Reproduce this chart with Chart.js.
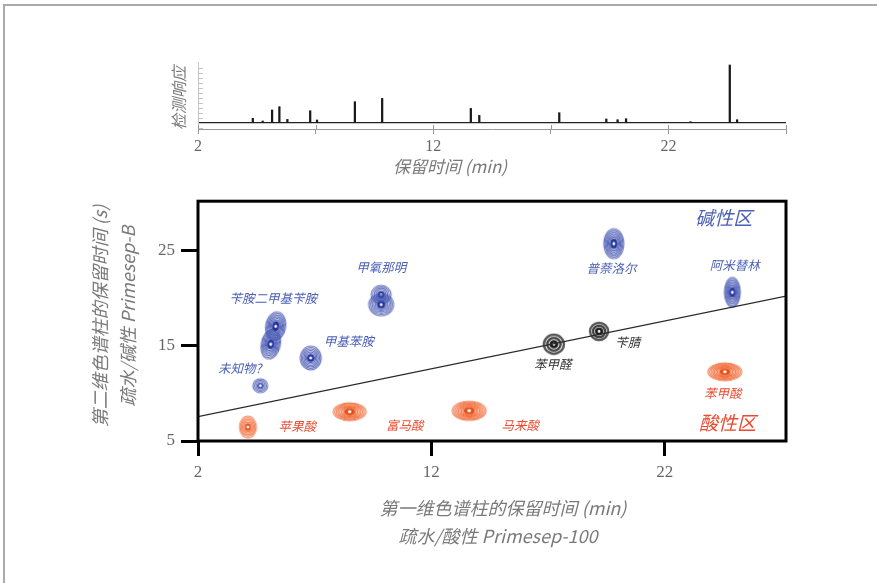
<!DOCTYPE html>
<html>
<head>
<meta charset="utf-8">
<script src="https://cdn.jsdelivr.net/npm/chart.js@4.4.0/dist/chart.umd.min.js"></script>
<style>
  body { margin: 0; background: #fff; width: 877px; height: 583px; overflow: hidden; position: relative; }
  #frame { position: absolute; left: 3px; top: 4px; width: 900px; height: 600px; border-left: 2px solid #aaa; border-top: 2px solid #aaa; }
  #top { position: absolute; left: 0; top: 50px; }
  #main { position: absolute; left: 0; top: 185px; }
</style>
</head>
<body>
<div id="frame"></div>
<canvas id="top" width="877" height="130"></canvas>
<canvas id="main" width="877" height="398"></canvas>
<script>
// --- 一维色谱图 (上) ---
const peakTime   = [4.33, 4.75, 5.15, 5.46, 5.80, 6.77, 7.06, 8.67, 9.83, 13.60, 13.96, 17.36, 19.36, 19.84, 20.20, 22.94, 24.61, 24.92];
const peakHeight = [4.4, 1.7, 12.7, 16, 3.3, 12, 2.7, 21, 24.3, 14.3, 7.3, 10, 3.7, 3, 4, 1, 57.7, 3];
const timeTicks  = [2, 7, 12, 17, 22, 27];
const timeLabels = [2, 12, 22];
const respTicks  = [-5, 0, 5, 10, 15, 20, 25, 30, 35, 40, 45, 50, 55];

// --- 二维图 (下) ---
const basicX   = [4.67, 5.12, 5.33, 6.83, 9.85, 9.85, 19.82, 24.9];
const basicY   = [10.8, 15.15, 17.03, 13.7, 20.34, 19.3, 25.7, 20.6];
const neutralX = [17.25, 19.19];
const neutralY = [15.15, 16.5];
const acidX    = [4.14, 8.5, 13.62, 24.58];
const acidY    = [6.46, 8.07, 8.17, 12.26];
const lineX    = [2, 27.2];
const lineY    = [7.55, 20.2];
const xTicks   = [2, 12, 22];
const yTicks   = [5, 15, 25];

const labelText = ['苄胺二甲基苄胺', '未知物?', '甲基苯胺', '甲氧那明', '普萘洛尔', '阿米替林', '苄腈', '苯甲醛', '苹果酸', '富马酸', '马来酸', '苯甲酸'];
const labelX    = [5.23, 3.79, 8.46, 9.85, 19.72, 25.0, 20.42, 17.2, 6.25, 10.86, 15.81, 24.49];
const labelY    = [19.93, 12.6, 15.43, 23.2, 23.1, 23.4, 15.33, 13.0, 6.56, 6.64, 6.64, 9.98];
const labelKind = ['b', 'b', 'b', 'b', 'b', 'b', 'n', 'n', 'a', 'a', 'a', 'a'];
const zoneText  = ['碱性区', '酸性区'];
const zoneX     = [24.53, 24.69];
const zoneY     = [28.4, 6.87];
const zoneKind  = ['b', 'a'];

// 样式：斑点大小 [rx, ry, 旋转角]
const basicShape   = [[7.5, 7, 0], [9.5, 15, 12], [10, 14.5, 10], [10.5, 12, 0], [10, 9.5, 0], [12.5, 11, 0], [10, 15, 0], [8, 15, 0]];
const neutralShape = [[10, 9.5, 0], [9, 8.5, 0]];
const acidShape    = [[8.5, 11, 0], [16.5, 9, 0], [17, 9.5, 0], [17, 9, 0]];

const colors = {
  b: { ring: '#3d4fae', core: '#25349a', text: '#4c60b6' },
  n: { ring: '#1c1c1c', core: '#111111', text: '#333333' },
  a: { ring: '#f0622c', core: '#e24d18', text: '#ee4a30' }
};
const grayText = '#7a7a7a';
const cjk = '"Noto Sans CJK SC", "Noto Sans", sans-serif';

Chart.defaults.animation = false;
Chart.defaults.font.family = cjk;

// 同心椭圆斑点
function ringSprite(kind, rx, ry) {
  const c = document.createElement('canvas');
  const w = Math.ceil(rx * 2 + 4), h = Math.ceil(ry * 2 + 4);
  c.width = w; c.height = h;
  const g = c.getContext('2d');
  const col = colors[kind];
  const n = kind === 'n' ? 3 : Math.max(4, Math.round(Math.max(rx, ry) / 1.6));
  g.lineWidth = kind === 'n' ? 2.4 : 1.1;
  g.strokeStyle = col.ring;
  for (let i = n; i >= 1; i--) {
    g.globalAlpha = 0.75 + 0.25 * (n - i) / n;
    g.beginPath();
    g.ellipse(w / 2, h / 2, rx * i / n, ry * i / n, 0, 0, Math.PI * 2);
    g.stroke();
  }
  g.globalAlpha = 1;
  g.fillStyle = col.core;
  g.beginPath();
  g.ellipse(w / 2, h / 2, rx * 0.32, ry * 0.32, 0, 0, Math.PI * 2);
  g.fill();
  g.fillStyle = '#fff';
  g.beginPath();
  g.ellipse(w / 2, h / 2, Math.max(1.4, rx * 0.11), Math.max(1.4, ry * 0.11), 0, 0, Math.PI * 2);
  g.fill();
  return c;
}

function pts(xs, ys) {
  return xs.map((x, i) => ({ x: x, y: ys[i] }));
}

// 上图
const topPlugin = {
  id: 'topDecor',
  afterDraw(chart) {
    const ctx = chart.ctx, ca = chart.chartArea, ys = chart.scales.y, xs = chart.scales.x;
    ctx.save();
    ctx.strokeStyle = '#c4c4c4';
    ctx.lineWidth = 1;
    ctx.beginPath();
    ctx.moveTo(ca.left + 0.5, ca.top);
    ctx.lineTo(ca.left + 0.5, ca.bottom);
    ys.ticks.forEach(t => {
      const y = Math.round(ys.getPixelForValue(t.value)) + 0.5;
      ctx.moveTo(ca.left, y);
      ctx.lineTo(ca.left + 5, y);
    });
    ctx.stroke();

    // x 刻度线向上穿过轴线
    ctx.strokeStyle = '#999';
    ctx.beginPath();
    xs.ticks.forEach(t => {
      const x = Math.round(xs.getPixelForValue(t.value)) + 0.5;
      ctx.moveTo(x, ca.bottom - 4);
      ctx.lineTo(x, ca.bottom);
    });
    ctx.stroke();

    ctx.fillStyle = grayText;
    ctx.textAlign = 'center';
    ctx.textBaseline = 'middle';
    ctx.font = 'italic 17px ' + cjk;
    ctx.fillText('保留时间 (min)', 450, 117);
    ctx.translate(179, 48);
    ctx.rotate(-Math.PI / 2);
    ctx.font = 'italic 16px ' + cjk;
    ctx.fillText('检测响应', 0, 0);
    ctx.restore();
  }
};

new Chart(document.getElementById('top'), {
  type: 'bar',
  data: {
    datasets: [{
      type: 'bar',
      data: pts(peakTime, peakHeight),
      backgroundColor: '#1a1a1a',
      barThickness: 1.6,
      grouped: false
    }, {
      type: 'line',
      data: pts([2, 27], [0, 0]),
      borderColor: '#222',
      borderWidth: 1.3,
      pointRadius: 0
    }]
  },
  options: {
    responsive: false,
    layout: { padding: { top: 12, right: 91, left: 0, bottom: 0 } },
    plugins: { legend: { display: false }, tooltip: { enabled: false } },
    scales: {
      x: {
        type: 'linear', min: 2, max: 27, offset: false,
        afterBuildTicks: s => { s.ticks = timeTicks.map(v => ({ value: v })); },
        afterFit: s => { s.height = 51; },
        grid: { drawOnChartArea: false, tickLength: 5, color: '#999', offset: false },
        border: { color: '#999', width: 1 },
        ticks: {
          padding: 3, color: '#666', maxRotation: 0, autoSkip: false,
          font: { family: '"Liberation Serif", serif', size: 16 },
          callback: v => timeLabels.includes(v) ? String(v) : ''
        }
      },
      y: {
        min: -6.3, max: 60.7,
        afterBuildTicks: s => { s.ticks = respTicks.map(v => ({ value: v })); },
        afterFit: s => { s.width = 198; },
        grid: { display: false },
        border: { display: false },
        ticks: { display: false }
      }
    }
  },
  plugins: [topPlugin]
});

// 下图
const mainPlugin = {
  id: 'mainDecor',
  afterDraw(chart) {
    const ctx = chart.ctx, ca = chart.chartArea, xs = chart.scales.x, ys = chart.scales.y;
    ctx.save();
    ctx.strokeStyle = '#000';
    ctx.lineWidth = 3;
    ctx.strokeRect(ca.left, ca.top, ca.right - ca.left, ca.bottom - ca.top);

    ctx.textAlign = 'center';
    ctx.textBaseline = 'middle';
    ctx.font = 'italic 12.5px ' + cjk;
    labelText.forEach((t, i) => {
      ctx.fillStyle = colors[labelKind[i]].text;
      ctx.fillText(t, xs.getPixelForValue(labelX[i]), ys.getPixelForValue(labelY[i]));
    });
    ctx.font = 'italic 19px ' + cjk;
    zoneText.forEach((t, i) => {
      ctx.fillStyle = colors[zoneKind[i]].text;
      ctx.fillText(t, xs.getPixelForValue(zoneX[i]), ys.getPixelForValue(zoneY[i]));
    });

    ctx.fillStyle = grayText;
    ctx.font = 'italic 18px ' + cjk;
    ctx.fillText('第一维色谱柱的保留时间 (min)', 503, 323);
    ctx.fillText('疏水/酸性 Primesep-100', 498, 351);
    ctx.translate(100, 131);
    ctx.rotate(-Math.PI / 2);
    ctx.fillText('第二维色谱柱的保留时间 (s)', 0, 0);
    ctx.fillText('疏水/碱性 Primesep-B', 0, 28);
    ctx.restore();
  }
};

function blobSet(xs, ys, kind, shapes) {
  return {
    type: 'scatter',
    data: pts(xs, ys),
    pointStyle: shapes.map(s => ringSprite(kind, s[0], s[1])),
    rotation: shapes.map(s => s[2]),
    pointRadius: 10
  };
}

new Chart(document.getElementById('main'), {
  type: 'scatter',
  data: {
    datasets: [{
      type: 'line',
      data: pts(lineX, lineY),
      borderColor: '#2a2a2a',
      borderWidth: 1.2,
      pointRadius: 0
    },
      blobSet(basicX, basicY, 'b', basicShape),
      blobSet(neutralX, neutralY, 'n', neutralShape),
      blobSet(acidX, acidY, 'a', acidShape)
    ]
  },
  options: {
    responsive: false,
    layout: { padding: { top: 10, right: 91, left: 0, bottom: 0 } },
    plugins: { legend: { display: false }, tooltip: { enabled: false } },
    scales: {
      x: {
        type: 'linear', min: 2, max: 27.2,
        afterBuildTicks: s => { s.ticks = xTicks.map(v => ({ value: v })); },
        afterFit: s => { s.height = 142; },
        grid: { drawOnChartArea: false, tickLength: 15, lineWidth: 3, color: '#000' },
        border: { display: false },
        ticks: { padding: 6, color: '#666', maxRotation: 0, autoSkip: false, font: { family: '"Liberation Serif", serif', size: 17 } }
      },
      y: {
        min: 5, max: 30.15,
        afterBuildTicks: s => { s.ticks = yTicks.map(v => ({ value: v })); },
        afterFit: s => { s.width = 198; },
        grid: { drawOnChartArea: false, tickLength: 17, lineWidth: 3, color: '#000' },
        border: { display: false },
        ticks: { padding: 6, color: '#666', font: { family: '"Liberation Serif", serif', size: 17 } }
      }
    }
  },
  plugins: [mainPlugin]
});
</script>
</body>
</html>
